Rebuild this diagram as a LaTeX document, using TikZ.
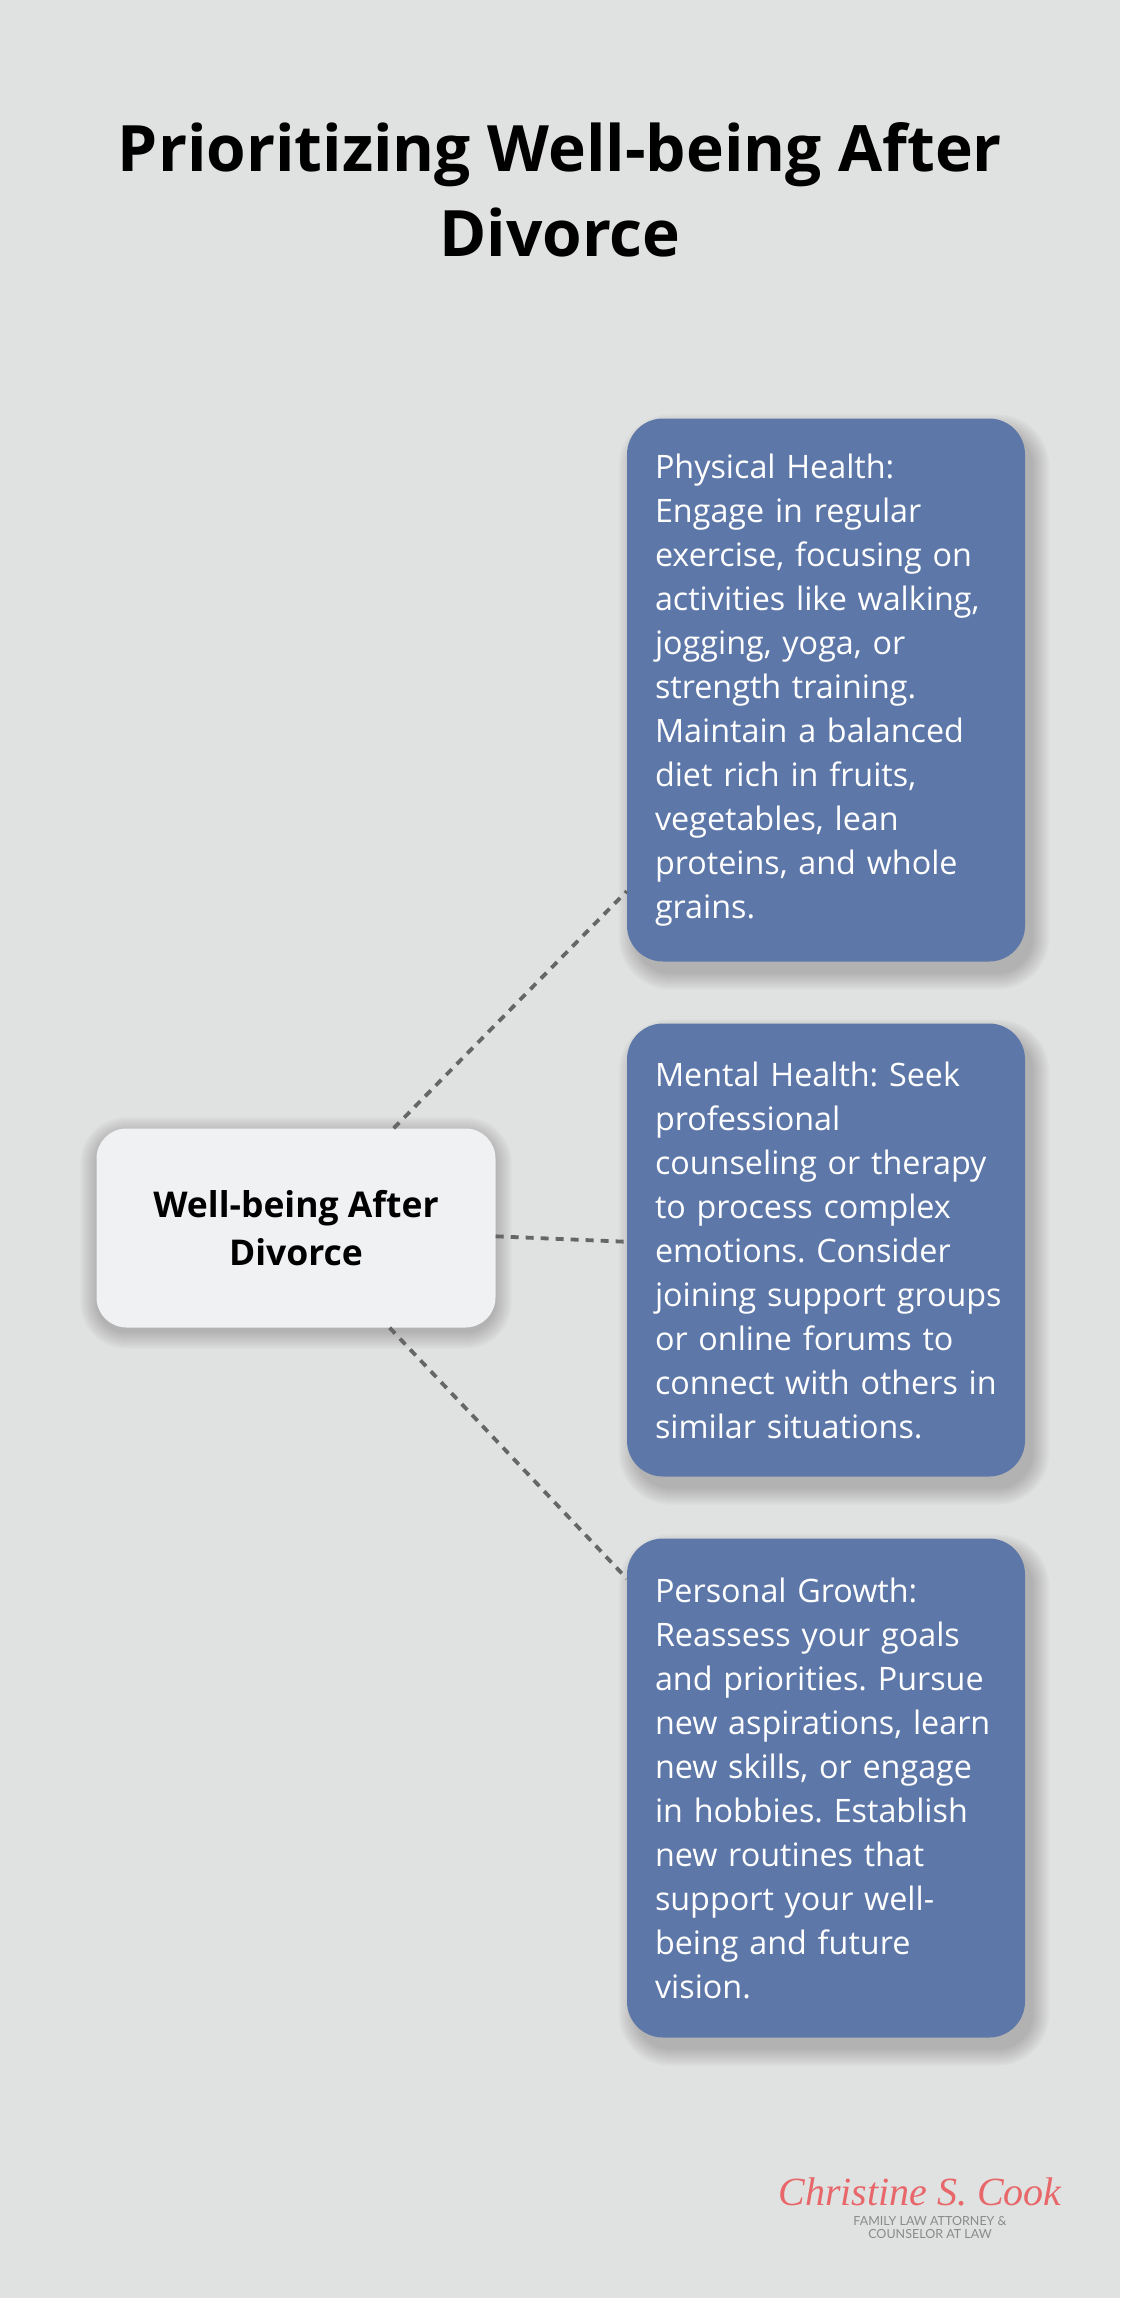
\documentclass[tikz,border=0pt]{standalone}
\usepackage{fontspec}
\setmainfont{Open Sans}
\newfontfamily\logosans{Lato}
\newfontfamily\logoscript{Liberation Serif}
\usetikzlibrary{calc,backgrounds}
\definecolor{bgc}{HTML}{E0E2E1}
\definecolor{bluebox}{HTML}{5D77A8}
\definecolor{centerbox}{HTML}{F0F1F3}
\definecolor{dashc}{HTML}{666666}
\definecolor{logored}{HTML}{E8676A}
\definecolor{logogray}{HTML}{8A8A8A}
\frenchspacing
\newcommand\boxline[1]{\mbox{#1}\\}
% soft shadow: node, x offset, y offset (pt, y downwards), corner radius
\newcommand\softshadow[4]{%
  \foreach \r in {16,14,...,0}{%
    \pgfmathsetmacro\rr{#4+\r}%
    \fill[black, opacity=0.022, rounded corners=\rr pt]
      ($(#1.north west)+(#2-\r,#3-\r)$) rectangle ($(#1.south east)+(#2+\r,#3+\r)$);
  }%
}
\tikzset{
  infobox/.style={fill=bluebox, rounded corners=36pt, text=white, align=left,
    text width=342pt, inner xsep=28pt, inner ysep=0pt, anchor=center,
    font=\fontsize{32.3}{44}\selectfont},
  hubbox/.style={fill=centerbox, rounded corners=30pt, align=center,
    minimum width=399pt, minimum height=199pt, inner sep=0pt,
    font=\fontsize{35.5}{48}\selectfont\bfseries},
  conn/.style={draw=dashc, line width=3.8pt, dash pattern=on 8pt off 7pt}
}
\begin{document}
\begin{tikzpicture}[x=1pt,y=-1pt]
\useasboundingbox (0,0) rectangle (1120,2298);

\node[align=center, inner sep=0pt, font=\fontsize{64}{85}\selectfont\bfseries] (title) at (560,190)
  {Prioritizing Well-being After\\Divorce};

\node[infobox, minimum height=543pt] (b1) at (826,690) {%
\boxline{Physical Health:}
\boxline{Engage in regular}
\boxline{exercise, focusing on}
\boxline{activities like walking,}
\boxline{jogging, yoga, or}
\boxline{strength training.}
\boxline{Maintain a balanced}
\boxline{diet rich in fruits,}
\boxline{vegetables, lean}
\boxline{proteins, and whole}
\mbox{grains.}};

\node[infobox, minimum height=453pt] (b2) at (826,1250) {%
\boxline{Mental Health: Seek}
\boxline{professional}
\boxline{counseling or therapy}
\boxline{to process complex}
\boxline{emotions. Consider}
\boxline{joining support groups}
\boxline{or online forums to}
\boxline{connect with others in}
\mbox{similar situations.}};

\node[infobox, minimum height=499pt] (b3) at (826,1788) {%
\boxline{Personal Growth:}
\boxline{Reassess your goals}
\boxline{and priorities. Pursue}
\boxline{new aspirations, learn}
\boxline{new skills, or engage}
\boxline{in hobbies. Establish}
\boxline{new routines that}
\boxline{support your well-}
\boxline{being and future}
\mbox{vision.}};

\node[hubbox] (hub) at (296,1228) {Well-being After\\Divorce};

\begin{scope}[on background layer]
  \fill[bgc] (0,0) rectangle (1120,2298);
  \softshadow{b1}{8}{12}{36}
  \softshadow{b2}{8}{12}{36}
  \softshadow{b3}{8}{12}{36}
  \softshadow{hub}{0}{5}{30}
\end{scope}

\draw[conn] (hub) -- (b1);
\draw[conn] (hub) -- (b2);
\draw[conn] (hub) -- (b3);

\node[inner sep=0pt, text=logored, font=\logoscript\itshape\fontsize{40}{40}\selectfont, anchor=base] (logo) at (920,2205) {Christine S. Cook};
\node[inner sep=0pt, text=logogray, align=center, font=\logosans\fontsize{12.5}{13}\selectfont, anchor=north] (logosub) at (930,2216) {FAMILY LAW ATTORNEY \&\\COUNSELOR AT LAW};
\end{tikzpicture}
\end{document}
